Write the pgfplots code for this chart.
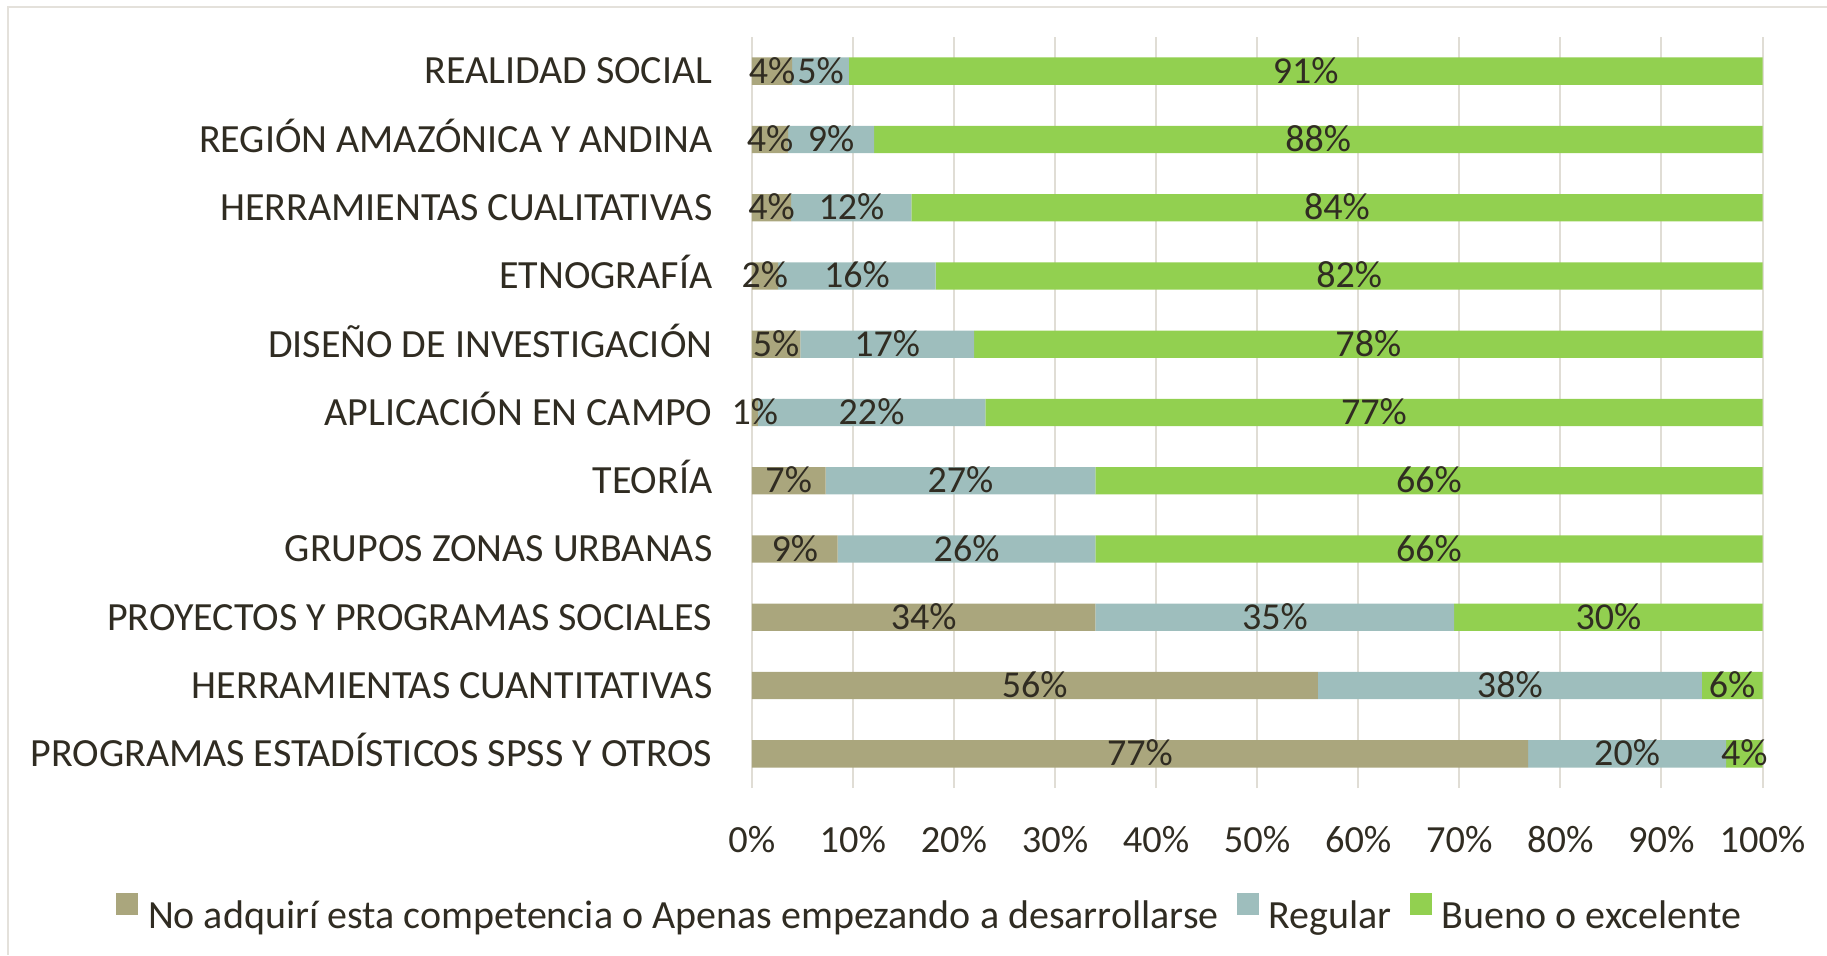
\documentclass[border=0pt]{standalone}
\usepackage{fontspec}
\setmainfont{Carlito}
\usepackage{pgfplots}
\pgfplotsset{compat=1.18}
\usepackage{pgfplotstable}

\definecolor{cno}{RGB}{170,166,125}
\definecolor{creg}{RGB}{158,190,189}
\definecolor{cbue}{RGB}{146,208,80}
\definecolor{ctext}{RGB}{48,44,34}
\definecolor{cgrid}{RGB}{224,221,213}
\definecolor{cframe}{RGB}{228,225,219}

% y: 10 = top row; b/t/g = bar lengths, bl/tl/gl = printed labels, bc/tc/gc = label centres
\pgfplotstableread{
y  b    t    g    bl tl gl bc    tc    gc
10 4.0  5.6  90.4 4  5  91 2.0   6.8   54.8
9  3.6  8.5  87.9 4  9  88 1.8   7.85  56.05
8  3.9  11.9 84.2 4  12 84 1.95  9.85  57.9
7  2.6  15.6 81.8 2  16 82 1.3   10.4  59.1
6  4.8  17.2 78.0 5  17 78 2.4   13.4  61.0
5  0.6  22.5 76.9 1  22 77 0.3   11.85 61.55
4  7.3  26.7 66.0 7  27 66 3.65  20.65 67.0
3  8.5  25.5 66.0 9  26 66 4.25  21.25 67.0
2  34.0 35.5 30.5 34 35 30 17.0  51.75 84.75
1  56.0 38.0 6.0  56 38 6  28.0  75.0  97.0
0  76.8 19.6 3.6  77 20 4  38.4  86.6  98.2
}\datos

\pgfplotsset{
  base/.style={
    scale only axis,
    width=505.35pt, height=375.5pt,
    at={(375.9pt,83.5pt)}, anchor=south west,
    xmin=0, xmax=100, ymin=-0.5, ymax=10.5,
  },
  etiq/.style={
    draw=none, mark=none,
    nodes near coords={\pgfplotspointmeta\%},
    point meta=explicit symbolic,
    nodes near coords style={anchor=base, yshift=-6pt, inner sep=0pt,
      font=\fontsize{19}{23}\selectfont, text=ctext},
  },
}

\begin{document}
\begin{tikzpicture}
\path[use as bounding box] (0,0) rectangle (913.5pt,477.5pt);
\draw[cframe, line width=1pt] (4pt,0pt) -- (4pt,474pt) -- (913.5pt,474pt);

\begin{axis}[
  base,
  xbar stacked,
  bar width=13.65pt,
  xtick={0,10,...,100},
  xticklabels={0\%,10\%,20\%,30\%,40\%,50\%,60\%,70\%,80\%,90\%,100\%},
  ytick={0,...,10},
  yticklabels={PROGRAMAS ESTADÍSTICOS SPSS Y OTROS,HERRAMIENTAS CUANTITATIVAS,PROYECTOS Y PROGRAMAS SOCIALES,GRUPOS ZONAS URBANAS,TEORÍA,APLICACIÓN EN CAMPO,DISEÑO DE INVESTIGACIÓN,ETNOGRAFÍA,HERRAMIENTAS CUALITATIVAS,REGIÓN AMAZÓNICA Y ANDINA,REALIDAD SOCIAL},
  xmajorgrids,
  grid style={cgrid, line width=1pt},
  axis line style={draw=none},
  major tick length=0pt,
  tick style={draw=none},
  xticklabel style={anchor=base, yshift=-32pt, inner sep=0pt,
    font=\fontsize{19.2}{23}\selectfont, text=ctext},
  yticklabel style={anchor=base east, xshift=-19.5pt, yshift=-6.4pt, inner sep=0pt,
    font=\fontsize{20}{24}\selectfont, text=ctext},
  legend columns=-1,
  legend image code/.code={\fill[#1] (0pt,0.5pt) rectangle (11pt,11.5pt);},
  legend style={at={(0.1748,-0.165)}, anchor=center, draw=none, fill=none,
    font=\fontsize{20}{24}\selectfont, text=ctext,
    nodes={inner sep=0pt},
    /tikz/every odd column/.append style={column sep=5pt},
    /tikz/every even column/.append style={column sep=9pt}},
]
\addplot[fill=cno, draw=none] table[x=b, y=y] {\datos};
\addplot[fill=creg, draw=none] table[x=t, y=y] {\datos};
\addplot[fill=cbue, draw=none] table[x=g, y=y] {\datos};
\legend{No adquirí esta competencia o Apenas empezando a desarrollarse, Regular, Bueno o excelente}
\end{axis}

\begin{axis}[base, hide axis, clip=false]
\addplot[etiq] table[x=bc, y=y, meta=bl] {\datos};
\addplot[etiq] table[x=tc, y=y, meta=tl] {\datos};
\addplot[etiq] table[x=gc, y=y, meta=gl] {\datos};
\end{axis}
\end{tikzpicture}
\end{document}
